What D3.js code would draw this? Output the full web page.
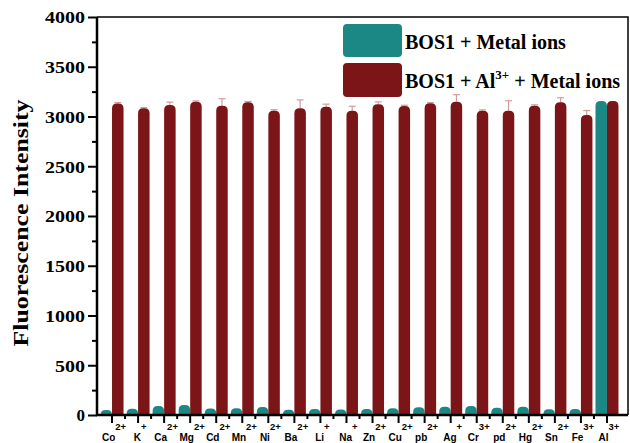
<!DOCTYPE html>
<html>
<head>
<meta charset="utf-8">
<script src="https://cdn.jsdelivr.net/npm/d3@7"></script>
<style>
  body { margin: 0; background: #fff; }
  svg { display: block; }
</style>
</head>
<body>
<div class="chart"></div>
<script>
// chart data
const Ions = ['Co', 'K', 'Ca', 'Mg', 'Cd', 'Mn', 'Ni', 'Ba', 'Li', 'Na',
  'Zn', 'Cu', 'pb', 'Ag', 'Cr', 'pd', 'Hg', 'Sn', 'Fe', 'Al'];
const Charges = ['2+', '+', '2+', '2+', '2+', '2+', '2+', '2+', '+', '+',
  '2+', '2+', '2+', '+', '3+', '2+', '2+', '2+', '3+', '3+'];
const MetalOnly = [50, 62, 90, 100, 65, 68, 80, 52, 60, 55,
  60, 67, 77, 83, 90, 73, 83, 57, 60, 3155];
const WithAl = [3130, 3082, 3115, 3149, 3109, 3143, 3058, 3082, 3099, 3058,
  3122, 3105, 3132, 3149, 3058, 3058, 3109, 3143, 3015, 3155];
const WithAlErr = [10, 8, 30, 8, 70, 8, 10, 85, 25, 45,
  25, 8, 8, 70, 8, 100, 8, 45, 45, 0];
const YTicks = [0, 500, 1000, 1500, 2000, 2500, 3000, 3500, 4000];
const SeriesNames = ['BOS1 + Metal ions', 'BOS1 + Al'];

const OuterWidth = 630, OuterHeight = 443;
const Colors = ['#1b8886', '#7c1517'];
const ErrColor = '#d39a9a';
const Serif = '"Liberation Serif", "Times New Roman", serif';
const Sans = '"Liberation Sans", Arial, sans-serif';

const Plot = {left: 97, right: 628, top: 17, bottom: 415};

const svg = d3.select('.chart')
  .append('svg')
  .attr('width', OuterWidth)
  .attr('height', OuterHeight);

// scales
const x = d3.scaleBand()
  .domain(Ions)
  .range([99, 620]);
const y = d3.scaleLinear()
  .domain([0, 4000])
  .range([Plot.bottom, Plot.top]);

const BarW = 11.5;

// bar with rounded top
function topRounded(x0, w, yTop, yBase) {
  const h = yBase - yTop;
  const r = Math.min(5, w / 2, h);
  return `M${x0},${yBase} L${x0},${yTop + r} Q${x0},${yTop} ${x0 + r},${yTop}` +
    ` L${x0 + w - r},${yTop} Q${x0 + w},${yTop} ${x0 + w},${yTop + r} L${x0 + w},${yBase} Z`;
}

const center = d => x(d) + x.bandwidth() / 2;

// error bars (upper only)
const errG = svg.append('g')
  .attr('stroke', ErrColor)
  .attr('stroke-width', 1.2);
Ions.forEach((d, i) => {
  if (WithAlErr[i] <= 0) return;
  const cx = center(d) + BarW / 2;
  const yTop = y(WithAl[i] + WithAlErr[i]);
  errG.append('line')
    .attr('x1', cx).attr('x2', cx)
    .attr('y1', y(WithAl[i])).attr('y2', yTop);
  errG.append('line')
    .attr('x1', cx - 3.5).attr('x2', cx + 3.5)
    .attr('y1', yTop).attr('y2', yTop);
});

// bars
svg.append('g')
  .selectAll('path')
  .data(Ions)
  .join('path')
    .attr('d', (d, i) => topRounded(center(d) - BarW, BarW, y(MetalOnly[i]), y(0)))
    .attr('fill', Colors[0]);

svg.append('g')
  .selectAll('path')
  .data(Ions)
  .join('path')
    .attr('d', (d, i) => topRounded(center(d), BarW, y(WithAl[i]), y(0)))
    .attr('fill', Colors[1]);

// y axis with minor ticks
svg.append('g')
  .attr('transform', `translate(${Plot.left},0)`)
  .call(d3.axisLeft(y).tickValues(d3.range(250, 4000, 500)).tickSize(5).tickFormat(''))
  .call(g => g.select('.domain').remove())
  .call(g => g.selectAll('line').attr('stroke-width', 2));

svg.append('g')
  .attr('transform', `translate(${Plot.left},0)`)
  .call(d3.axisLeft(y).tickValues(YTicks).tickSize(9).tickPadding(3).tickFormat(d3.format('d')))
  .call(g => g.select('.domain').remove())
  .call(g => g.selectAll('line').attr('stroke-width', 2))
  .call(g => g.selectAll('text')
    .attr('font-family', Serif)
    .attr('font-weight', 'bold')
    .attr('font-size', 17)
    .attr('fill', '#000')
    .attr('dy', '0.35em')
    .attr('textLength', d => String(d).length > 1 ? String(d).length * 10 : null)
    .attr('lengthAdjust', 'spacingAndGlyphs'));

// x axis ticks
svg.append('g')
  .attr('transform', `translate(0,${Plot.bottom})`)
  .call(d3.axisBottom(x).tickSize(8).tickFormat(''))
  .call(g => g.select('.domain').remove())
  .call(g => g.selectAll('line').attr('stroke-width', 2));

svg.append('g')
  .attr('stroke', '#000')
  .attr('stroke-width', 2)
  .selectAll('line')
  .data(Ions.slice(1))
  .join('line')
    .attr('x1', d => x(d)).attr('x2', d => x(d))
    .attr('y1', Plot.bottom).attr('y2', Plot.bottom + 4);

// x labels with charges
const lab = svg.append('g')
  .selectAll('text')
  .data(Ions)
  .join('text')
    .attr('x', d => center(d) + 2)
    .attr('y', 441)
    .attr('text-anchor', 'middle')
    .attr('font-family', Sans)
    .attr('font-weight', 'bold')
    .attr('font-size', 10);
lab.append('tspan').text(d => d);
lab.append('tspan')
  .attr('dy', -11)
  .attr('font-size', 9.5)
  .text((d, i) => Charges[i]);

// frame
svg.append('path')
  .attr('d', `M${Plot.left},${Plot.top} H${Plot.right} V${Plot.bottom}`)
  .attr('fill', 'none')
  .attr('stroke', '#000')
  .attr('stroke-width', 1.5);
svg.append('path')
  .attr('d', `M${Plot.left},${Plot.top} V${Plot.bottom} H${Plot.right}`)
  .attr('fill', 'none')
  .attr('stroke', '#000')
  .attr('stroke-width', 2.5);

// y label
svg.append('text')
  .attr('transform', 'translate(28,223) rotate(-90)')
  .attr('text-anchor', 'middle')
  .attr('font-family', Serif)
  .attr('font-weight', 'bold')
  .attr('font-size', 20)
  .attr('textLength', 247)
  .attr('lengthAdjust', 'spacingAndGlyphs')
  .text('Fluorescence Intensity');

// legend
const legend = svg.append('g');
legend.append('rect')
  .attr('x', 343).attr('y', 24).attr('width', 59).attr('height', 33).attr('rx', 4)
  .attr('fill', Colors[0]);
legend.append('rect')
  .attr('x', 343).attr('y', 63).attr('width', 59).attr('height', 34).attr('rx', 4)
  .attr('fill', Colors[1]);
legend.append('text')
  .attr('x', 405).attr('y', 49)
  .attr('font-family', Serif).attr('font-weight', 'bold').attr('font-size', 20)
  .text(SeriesNames[0]);
const l2 = legend.append('text')
  .attr('x', 405).attr('y', 88)
  .attr('font-family', Serif).attr('font-weight', 'bold').attr('font-size', 20);
l2.append('tspan').text(SeriesNames[1]);
l2.append('tspan').attr('dy', -9).attr('font-size', 13).text('3+');
l2.append('tspan').attr('dy', 9).text(' + Metal ions');
</script>
</body>
</html>
